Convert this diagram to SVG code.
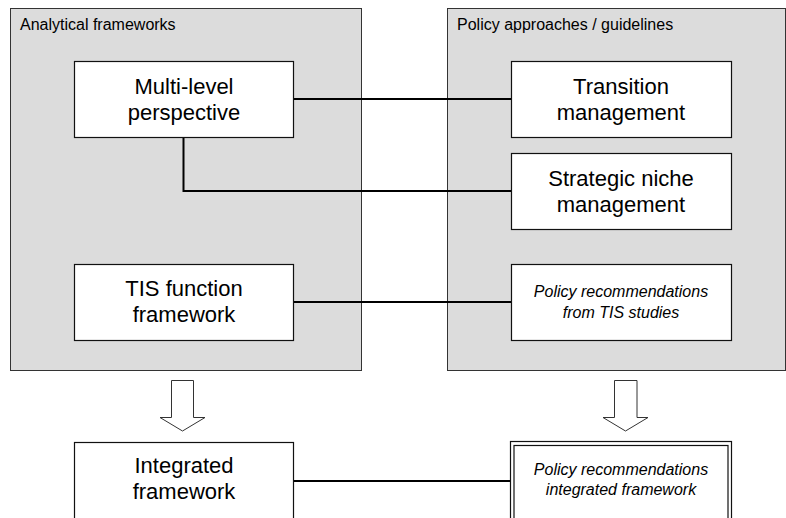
<svg xmlns="http://www.w3.org/2000/svg" width="786" height="518" viewBox="0 0 786 518">
<style>
text{font-family:"Liberation Sans",Arial,sans-serif;fill:#000}
.panel{fill:#dcdcdc;stroke:#333;stroke-width:1}
.box{fill:#fff;stroke:#111;stroke-width:1.2}
.lbl{font-size:22px;text-anchor:middle}
.it{font-size:16px;font-style:italic;text-anchor:middle}
.title{font-size:16px}
.conn{fill:none;stroke:#000;stroke-width:2}
.arrow{fill:#fff;stroke:#333;stroke-width:1}
</style>
<g id="panel-analytical">
<rect class="panel" x="10.5" y="8.5" width="351" height="362"/>
<text class="title" x="20" y="30">Analytical frameworks</text>
</g>
<g id="panel-policy">
<rect class="panel" x="447.5" y="8.5" width="338" height="362"/>
<text class="title" x="457" y="30">Policy approaches / guidelines</text>
</g>
<g id="connectors">
<line class="conn" x1="293" y1="99" x2="511" y2="99"/>
<polyline class="conn" points="183.5,137 183.5,191 511,191"/>
<line class="conn" x1="293" y1="302" x2="511" y2="302"/>
<line class="conn" x1="293" y1="481" x2="511" y2="481"/>
<polygon class="arrow" points="171.5,380.5 193.5,380.5 193.5,417.5 205,417.5 182.5,431 160,417.5 171.5,417.5"/>
<polygon class="arrow" points="614.5,380.5 637,380.5 637,417.5 648,417.5 625.5,431 603,417.5 614.5,417.5"/>
</g>
<g id="mlp">
<rect class="box" x="74.5" y="61.5" width="219" height="76"/>
<text class="lbl" x="184" y="94">Multi-level</text>
<text class="lbl" x="184" y="120">perspective</text>
</g>
<g id="tis">
<rect class="box" x="74.5" y="264.5" width="219" height="76"/>
<text class="lbl" x="184" y="296">TIS function</text>
<text class="lbl" x="184" y="322">framework</text>
</g>
<g id="transition">
<rect class="box" x="511.5" y="61.5" width="220" height="76"/>
<text class="lbl" x="621" y="94">Transition</text>
<text class="lbl" x="621" y="120">management</text>
</g>
<g id="snm">
<rect class="box" x="511.5" y="153.5" width="220" height="76"/>
<text class="lbl" x="621" y="186">Strategic niche</text>
<text class="lbl" x="621" y="212">management</text>
</g>
<g id="policy-tis">
<rect class="box" x="511.5" y="264.5" width="220" height="76"/>
<text class="it" x="621" y="297">Policy recommendations</text>
<text class="it" x="621" y="318">from TIS studies</text>
</g>
<g id="integrated">
<rect class="box" x="74.5" y="442.5" width="219" height="100"/>
<text class="lbl" x="184" y="473">Integrated</text>
<text class="lbl" x="184" y="499">framework</text>
</g>
<g id="policy-integrated">
<rect class="box" x="510.5" y="441.5" width="221" height="100"/>
<rect class="box" x="514" y="445.5" width="214" height="100"/>
<text class="it" x="621" y="475">Policy recommendations</text>
<text class="it" x="621" y="495">integrated framework</text>
</g>
</svg>
